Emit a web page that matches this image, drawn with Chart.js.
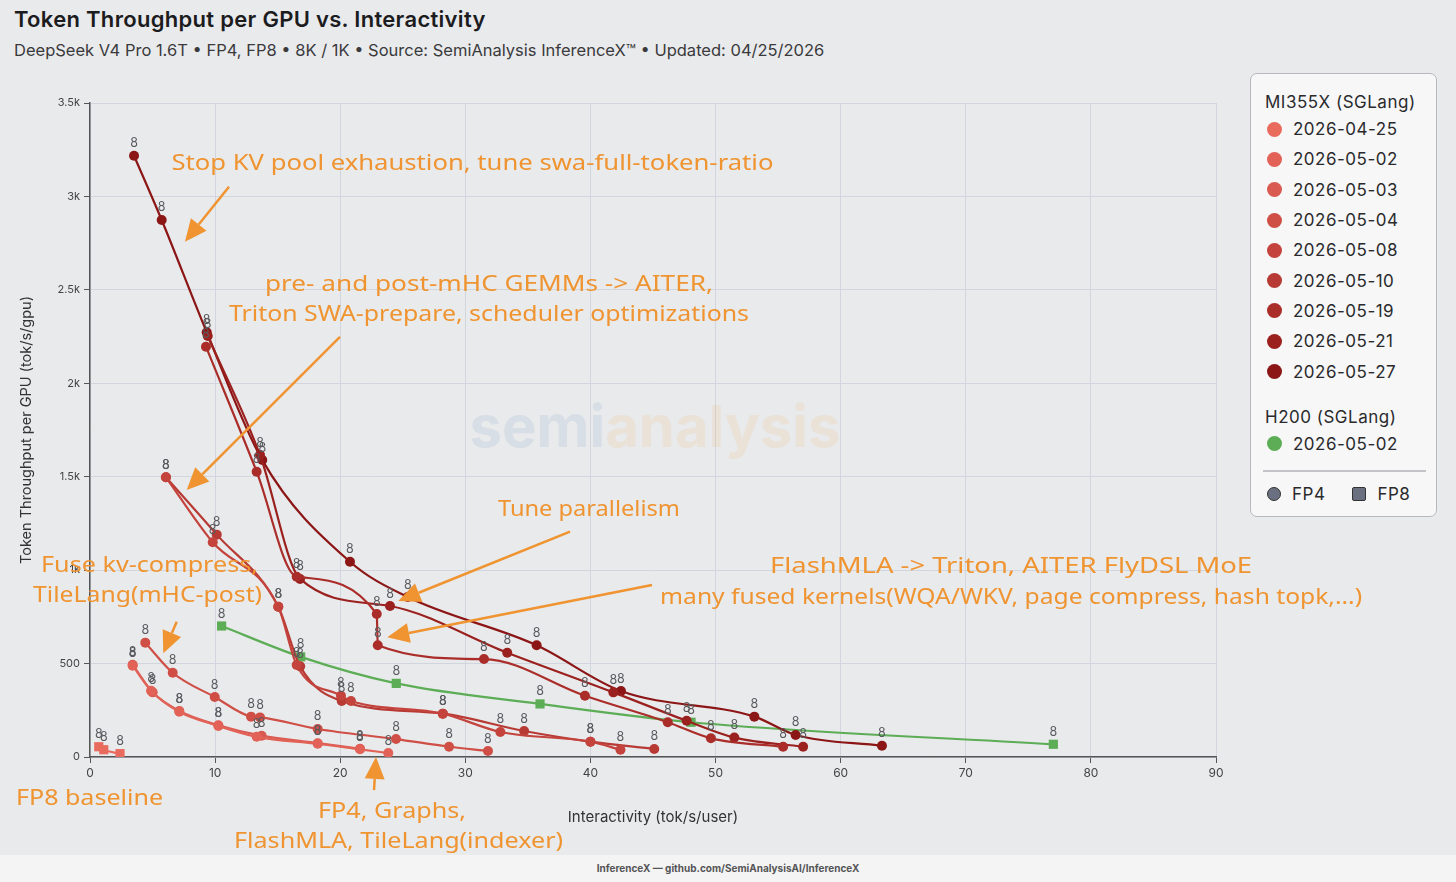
<!DOCTYPE html>
<html>
<head>
<meta charset="utf-8">
<script src="https://cdn.jsdelivr.net/npm/chart.js@4.4.1/dist/chart.umd.min.js"></script>
<style>
  body { margin: 0; width: 1456px; height: 882px; background: #e9eaec; font-family: Inter, "Noto Sans", sans-serif; overflow: hidden; position: relative; }
  #title { position: absolute; left: 14px; top: 6px; font-size: 22px; font-weight: 600; color: #1c1c1e; letter-spacing: 0.3px; }
  #subtitle { position: absolute; left: 14px; top: 40px; font-size: 16.5px; color: #3a3a3c; }
  #wrap { position: absolute; left: 0; top: 0; width: 1456px; height: 855px; }
  #legend { position: absolute; left: 1250px; top: 73px; width: 187px; height: 444px; box-sizing: border-box; border: 1.5px solid #b8b8bc; border-radius: 7px; background: #f7f7f8; padding: 16px 0 0 14px; font-size: 17px; color: #2a2a2c; letter-spacing: 0.5px; }
  .grp { height: 24px; line-height: 24px; }
  .item { height: 30.3px; display: flex; align-items: center; }
  .dot { width: 15px; height: 15px; border-radius: 50%; margin: 0 11px 0 2px; }
  .sep { height: 0; border-top: 2px solid #c4c4c8; margin: 11px 10px 7px -2px; }
  #footer { position: absolute; left: 0; top: 855px; width: 1456px; height: 27px; background: #f4f4f5; text-align: center; font-size: 10px; font-weight: 700; color: #555; line-height: 27px; }
</style>
</head>
<body>
<div id="title">Token Throughput per GPU vs. Interactivity</div>
<div id="subtitle">DeepSeek V4 Pro 1.6T • FP4, FP8 • 8K / 1K • Source: SemiAnalysis InferenceX™ • Updated: 04/25/2026</div>
<div id="wrap"><canvas id="chart" width="1456" height="855"></canvas></div>
<div id="legend"></div>
<div id="footer">InferenceX — github.com/SemiAnalysisAI/InferenceX</div>
<script>
// axis ticks
const xTickValues = [0, 10, 20, 30, 40, 50, 60, 70, 80, 90];
const yTickValues = [0, 500, 1000, 1500, 2000, 2500, 3000, 3500];
const yTickLabels = ['0', '500', '1k', '1.5k', '2k', '2.5k', '3k', '3.5k'];

// MI355X (SGLang) runs, interactivity (tok/s/user) vs throughput (tok/s/gpu)
const mi0425X = [0.7, 1.1, 2.4];
const mi0425Y = [55, 39, 18];
const mi0502X = [3.41, 4.88, 7.14, 10.26, 13.32, 18.2, 21.58, 23.84];
const mi0502Y = [489, 355, 242, 166, 108, 71, 41, 21];
const mi0503X = [3.41, 5.01, 7.14, 10.26, 13.72, 18.2, 21.58];
const mi0503Y = [494, 346, 246, 170, 114, 74, 44];
const mi0504X = [4.42, 6.61, 9.97, 12.87, 13.59, 18.2, 24.46, 28.7, 31.81];
const mi0504Y = [612, 451, 321, 216, 212, 150, 96, 55, 32];
const mi0508X = [6.07, 9.81, 15.05, 16.52, 20.06, 20.86, 28.2, 32.8, 40.0, 42.4];
const mi0508Y = [1497, 1149, 804, 492, 328, 300, 232, 134, 82, 39];
const mi0510X = [6.07, 10.13, 15.05, 16.8, 20.12, 28.2, 34.7, 40.0, 45.1];
const mi0510Y = [1497, 1190, 804, 485, 300, 232, 139, 82, 43];
const mi0519X = [9.27, 13.32, 16.52, 22.92, 23.0, 31.49, 39.56, 46.18, 49.63, 55.4];
const mi0519Y = [2196, 1527, 965, 765, 598, 524, 328, 186, 100, 55];
const mi0521X = [9.41, 13.59, 16.79, 23.98, 33.35, 41.83, 47.69, 51.5, 57.0];
const mi0521Y = [2253, 1616, 953, 808, 558, 346, 194, 104, 55];
const mi0527X = [3.52, 5.73, 9.33, 13.77, 20.78, 25.4, 35.7, 42.44, 53.1, 56.4, 63.3];
const mi0527Y = [3218, 2874, 2273, 1589, 1045, 856, 598, 353, 216, 118, 60];

// H200 (SGLang)
const h200X = [10.52, 16.84, 24.48, 35.97, 48.04, 77.0];
const h200Y = [701, 536, 394, 284, 186, 68];

const miDates = ['2026-04-25', '2026-05-02', '2026-05-03', '2026-05-04', '2026-05-08', '2026-05-10', '2026-05-19', '2026-05-21', '2026-05-27'];
const h200Dates = ['2026-05-02'];

// styling per series
const miColors = ['#e96b5e', '#e26257', '#d95a50', '#cf4f46', '#c4443d', '#b83a34', '#aa2d29', '#9b211f', '#8c1616'];
const h200Color = '#5cad56';

const miSeries = [
    [mi0425X, mi0425Y, 'rect'],
    [mi0502X, mi0502Y, 'circle'],
    [mi0503X, mi0503Y, 'circle'],
    [mi0504X, mi0504Y, 'circle'],
    [mi0508X, mi0508Y, 'circle'],
    [mi0510X, mi0510Y, 'circle'],
    [mi0519X, mi0519Y, 'circle'],
    [mi0521X, mi0521Y, 'circle'],
    [mi0527X, mi0527Y, 'circle'],
];

const makeDataset = (label, xs, ys, color, shape) => ({
    label: label,
    data: xs.map((x, i) => ({ x: x, y: ys[i] })),
    borderColor: color,
    backgroundColor: color,
    borderWidth: 2.2,
    pointStyle: shape,
    pointRadius: shape === 'rect' ? 6.5 : 5,
    pointBorderWidth: 0,
    showLine: true,
    cubicInterpolationMode: 'monotone',
});

const datasets = miSeries.map((s, i) => makeDataset('MI355X ' + miDates[i], s[0], s[1], miColors[i], s[2]));
datasets.push(makeDataset('H200 ' + h200Dates[0], h200X, h200Y, h200Color, 'rect'));

// hand-written notes, anchored in data units (centre of each line)
const noteLines = [
    { text: 'Stop KV pool exhaustion, tune swa-full-token-ratio', x: 30.57, y: 3174, w: 602 },
    { text: 'pre- and post-mHC GEMMs -> AITER,', x: 31.89, y: 2526, w: 448 },
    { text: 'Triton SWA-prepare, scheduler optimizations', x: 31.89, y: 2365, w: 520 },
    { text: 'Tune parallelism', x: 39.88, y: 1322, w: 182 },
    { text: 'FlashMLA -> Triton, AITER FlyDSL MoE', x: 73.62, y: 1017, w: 482 },
    { text: 'many fused kernels(WQA/WKV, page compress, hash topk,...)', x: 73.62, y: 851, w: 702 },
    { text: 'Fuse kv-compress,', x: 4.76, y: 1022, w: 217 },
    { text: 'TileLang(mHC-post)', x: 4.6, y: 862, w: 229 },
    { text: 'FP8 baseline', x: -0.04, y: -225, w: 147 },
    { text: 'FP4, Graphs,', x: 24.14, y: -294, w: 148 },
    { text: 'FlashMLA, TileLang(indexer)', x: 24.66, y: -455, w: 329 },
];
const noteArrows = [
    [11.11, 3052, 7.59, 2758],
    [19.98, 2248, 7.73, 1429],
    [38.37, 1206, 24.64, 835],
    [44.92, 920, 23.76, 641],
    [6.93, 724, 5.86, 555],
    [22.7, -177, 22.86, 0],
];
const noteColor = '#ef9430';

// draws the small "8" above each point
const pointLabels = {
    id: 'pointLabels',
    afterDatasetsDraw(chart) {
        const ctx = chart.ctx;
        ctx.save();
        ctx.font = '12.5px Inter';
        ctx.fillStyle = '#5a5a5e';
        ctx.textAlign = 'center';
        ctx.textBaseline = 'bottom';
        chart.data.datasets.forEach((ds, i) => {
            chart.getDatasetMeta(i).data.forEach(pt => {
                ctx.fillText('8', pt.x, pt.y - 6);
            });
        });
        ctx.restore();
    }
};

// faint watermark behind the data
const watermark = {
    id: 'watermark',
    beforeDatasetsDraw(chart) {
        const ctx = chart.ctx;
        const cx = (chart.chartArea.left + chart.chartArea.right) / 2 + 2;
        const cy = (chart.chartArea.top + chart.chartArea.bottom) / 2;
        ctx.save();
        ctx.font = 'bold 58px Inter';
        ctx.textBaseline = 'middle';
        const w1 = ctx.measureText('semi').width;
        const w2 = ctx.measureText('analysis').width;
        const x0 = cx - (w1 + w2) / 2;
        ctx.fillStyle = 'rgba(110,150,200,0.14)';
        ctx.fillText('semi', x0, cy);
        ctx.fillStyle = 'rgba(240,170,90,0.14)';
        ctx.fillText('analysis', x0 + w1, cy);
        ctx.restore();
    }
};

const notes = {
    id: 'notes',
    afterDraw(chart) {
        const ctx = chart.ctx;
        const xs = chart.scales.x, ys = chart.scales.y;
        ctx.save();
        ctx.fillStyle = noteColor;
        ctx.strokeStyle = noteColor;
        ctx.font = '21px "Noto Sans"';
        ctx.textAlign = 'center';
        ctx.textBaseline = 'middle';
        noteLines.forEach(n => {
            const px = xs.getPixelForValue(n.x);
            const py = ys.getPixelForValue(n.y);
            const m = ctx.measureText(n.text).width;
            ctx.save();
            ctx.translate(px, py);
            ctx.scale(n.w / m, 1);
            ctx.fillText(n.text, 0, 0);
            ctx.restore();
        });
        ctx.lineWidth = 2.5;
        noteArrows.forEach(a => {
            const x1 = xs.getPixelForValue(a[0]), y1 = ys.getPixelForValue(a[1]);
            const x2 = xs.getPixelForValue(a[2]), y2 = ys.getPixelForValue(a[3]);
            const ang = Math.atan2(y2 - y1, x2 - x1);
            const len = 22, half = 10;
            const bx = x2 - len * Math.cos(ang), by = y2 - len * Math.sin(ang);
            ctx.beginPath();
            ctx.moveTo(x1, y1);
            ctx.lineTo(bx, by);
            ctx.stroke();
            ctx.beginPath();
            ctx.moveTo(x2, y2);
            ctx.lineTo(bx + half * Math.sin(ang), by - half * Math.cos(ang));
            ctx.lineTo(bx - half * Math.sin(ang), by + half * Math.cos(ang));
            ctx.closePath();
            ctx.fill();
        });
        ctx.restore();
    }
};

const ctx = document.getElementById('chart').getContext('2d');
new Chart(ctx, {
    type: 'scatter',
    data: { datasets: datasets },
    options: {
        responsive: false,
        devicePixelRatio: 1,
        animation: false,
        layout: { padding: { left: 12, top: 103, right: 240, bottom: 25 } },
        plugins: { legend: { display: false }, tooltip: { enabled: false } },
        scales: {
            x: {
                type: 'linear', min: 0, max: 90,
                afterFit: (scale) => { scale.height = 73; },
                afterBuildTicks: (scale) => { scale.ticks = xTickValues.map(v => ({ value: v })); },
                ticks: { color: '#444', font: { size: 12, family: 'Inter' }, padding: 3 },
                grid: { color: '#d1d6de', tickColor: '#555', tickLength: 6 },
                border: { color: '#555', width: 1.5 },
                title: { display: true, text: 'Interactivity (tok/s/user)', color: '#333', font: { size: 15, family: 'Inter' }, padding: { top: 0, bottom: 4 } },
            },
            y: {
                type: 'linear', min: 0, max: 3500,
                afterFit: (scale) => { scale.width = 78; },
                afterBuildTicks: (scale) => { scale.ticks = yTickValues.map(v => ({ value: v })); },
                ticks: {
                    color: '#444', font: { size: 11, family: 'Inter' }, padding: 4,
                    callback: (v) => yTickLabels[yTickValues.indexOf(v)],
                },
                grid: { color: '#d1d6de', tickColor: '#555', tickLength: 6 },
                border: { color: '#555', width: 1.5 },
                title: { display: true, text: 'Token Throughput per GPU (tok/s/gpu)', color: '#333', font: { size: 14.5, family: 'Inter' }, padding: { top: 6, bottom: 0 } },
            },
        },
    },
    plugins: [watermark, pointLabels, notes],
});

// legend box
const legend = document.getElementById('legend');
const addGroup = (name, top) => {
    const g = document.createElement('div');
    g.className = 'grp';
    g.textContent = name;
    if (top) g.style.marginTop = top + 'px';
    legend.appendChild(g);
};
const addItem = (label, color) => {
    const row = document.createElement('div');
    row.className = 'item';
    row.innerHTML = `<span class="dot" style="background:${color}"></span>${label}`;
    legend.appendChild(row);
};
addGroup('MI355X (SGLang)');
miDates.forEach((d, i) => addItem(d, miColors[i]));
addGroup('H200 (SGLang)', 18);
h200Dates.forEach(d => addItem(d, h200Color));
const sep = document.createElement('div');
sep.className = 'sep';
legend.appendChild(sep);
const shapes = document.createElement('div');
shapes.className = 'item';
shapes.innerHTML = '<span class="dot" style="background:#6b7080;border:1.5px solid #333;width:12px;height:12px"></span>FP4' +
    '<span style="display:inline-block;width:12px;height:12px;background:#6b7080;border:1.5px solid #333;border-radius:2px;margin:0 11px 0 27px"></span>FP8';
legend.appendChild(shapes);
</script>
</body>
</html>
